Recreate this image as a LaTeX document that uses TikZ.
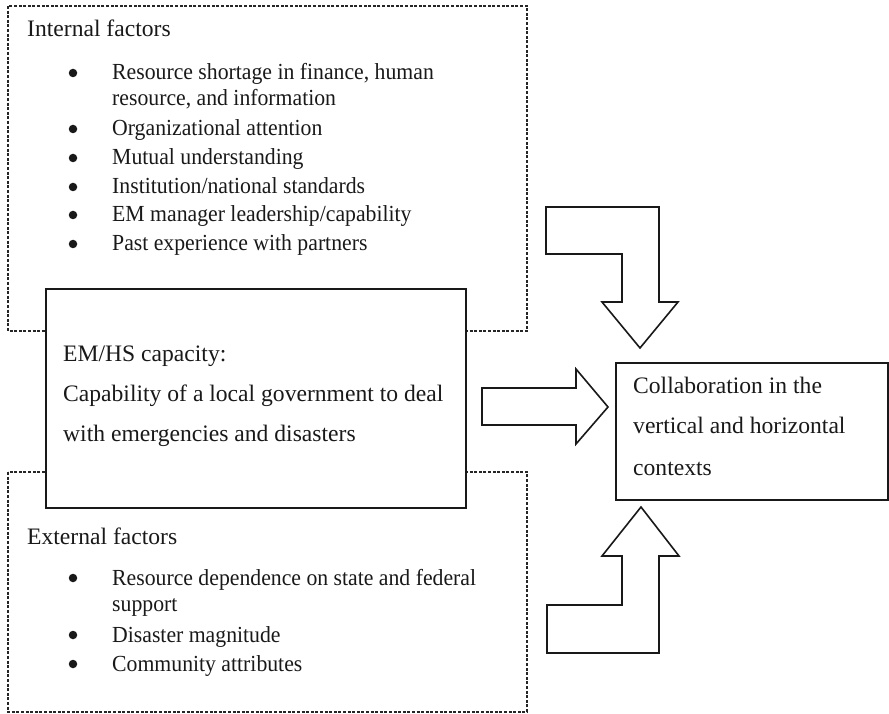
\documentclass[tikz,border=0pt]{standalone}
\usepackage{fontspec}
\setmainfont{Liberation Serif}
\newfontfamily\listfont[FakeStretch=0.945]{Liberation Serif}
\begin{document}
\begin{tikzpicture}[x=1pt,y=-1pt,
  txt/.style={anchor=base west, inner sep=0pt, text=black!90, font=\fontsize{23.6}{26}\selectfont},
  itm/.style={anchor=base west, inner sep=0pt, text=black!90, font=\listfont\fontsize{23}{26}\selectfont},
  bul/.style={circle, fill=black!90, inner sep=0pt, minimum size=8.5pt},
  dashbox/.style={draw=black!85, line width=1.3pt, dash pattern=on 3pt off 1.6pt},
  solidbox/.style={draw=black!90, line width=1.6pt, fill=white, inner sep=0pt, anchor=north west},
  blockarrow/.style={draw=black!90, line width=1.6pt, line join=miter, fill=white}]
\useasboundingbox (0,0) rectangle (889,714);
% dashed frames
\draw[dashbox] (8,6) rectangle (527,331);
\draw[dashbox] (8,472) rectangle (527,712);
% central box
\node[solidbox, minimum width=420pt, minimum height=219pt] (em) at (45,288) {};
\node[solidbox, minimum width=272pt, minimum height=137pt] (collab) at (615,362) {};
% internal factors text
\node[txt] (it) at (27,37) {Internal factors};
\node[bul] (b1) at (73,73) {};
\node[itm] (i1) at (112,80) {Resource shortage in finance, human};
\node[itm] (i1b) at (112,106) {resource, and information};
\node[bul] (b2) at (73,129) {};
\node[itm] (i2) at (112,136) {Organizational attention};
\node[bul] (b3) at (73,158) {};
\node[itm] (i3) at (112,165) {Mutual understanding};
\node[bul] (b4) at (73,187) {};
\node[itm] (i4) at (112,194) {Institution/national standards};
\node[bul] (b5) at (73,215) {};
\node[itm] (i5) at (112,222) {EM manager leadership/capability};
\node[bul] (b6) at (73,244) {};
\node[itm] (i6) at (112,251) {Past experience with partners};
% external factors text
\node[txt] (et) at (27,544) {External factors};
\node[bul] (c1) at (73,578) {};
\node[itm] (e1) at (112,585) {Resource dependence on state and federal};
\node[itm] (e1b) at (112,611) {support};
\node[bul] (c2) at (73,635) {};
\node[itm] (e2) at (112,642) {Disaster magnitude};
\node[bul] (c3) at (73,664) {};
\node[itm] (e3) at (112,671) {Community attributes};
% EM text
\node[txt] (m1) at (63,361) {EM/HS capacity:};
\node[txt] (m2) at (63,401) {Capability of a local government to deal};
\node[txt] (m3) at (63,441) {with emergencies and disasters};
% collaboration text
\node[txt] (k1) at (633,393) {Collaboration in the};
\node[txt] (k2) at (633,433) {vertical and horizontal};
\node[txt] (k3) at (633,475) {contexts};
% block arrows
\draw[blockarrow] (546,207) -- (659,207) -- (659,302) -- (678,302) -- (640,348)
  -- (602,302) -- (622,302) -- (622,254) -- (546,254) -- cycle;
\draw[blockarrow] (547,653) -- (659,653) -- (659,556) -- (679,556) -- (641,507)
  -- (602,556) -- (622,556) -- (622,605) -- (547,605) -- cycle;
\draw[blockarrow] (482,388) -- (576,388) -- (576,369) -- (608,407)
  -- (576,444) -- (576,425) -- (482,425) -- cycle;
\end{tikzpicture}
\end{document}
